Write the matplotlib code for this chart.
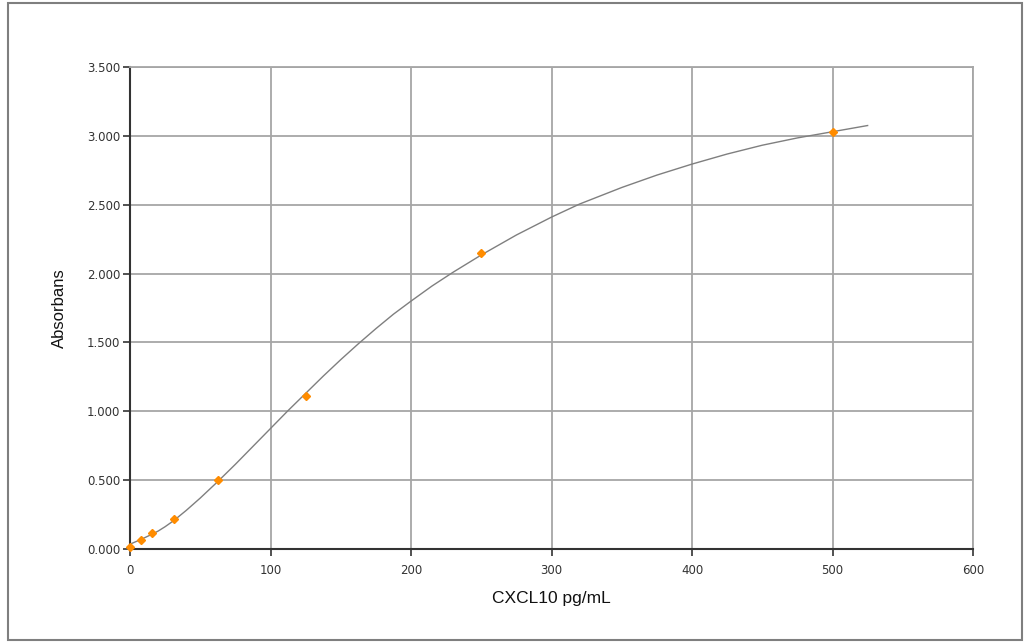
import matplotlib
matplotlib.use("Agg")
import matplotlib.pyplot as plt
from matplotlib.patches import Rectangle

# Standard points
conc = [0, 7.8, 15.6, 31.25, 62.5, 125, 250, 500]
absorb = [0.015, 0.065, 0.115, 0.22, 0.50, 1.11, 2.15, 3.03]

# Fitted curve
curve_x = [0, 5, 10, 15, 20, 25, 31.25, 40, 50, 62.5, 75, 87.5, 100, 112.5, 125,
           137.5, 150, 162.5, 175, 187.5, 200, 215, 230, 250, 275, 300, 320, 350,
           375, 400, 425, 450, 475, 500, 525]
curve_y = [0.035, 0.057, 0.08, 0.104, 0.13, 0.162, 0.207, 0.28, 0.37, 0.49, 0.615,
           0.745, 0.875, 1.005, 1.13, 1.255, 1.375, 1.49, 1.60, 1.705, 1.80, 1.91,
           2.01, 2.135, 2.28, 2.41, 2.505, 2.625, 2.715, 2.795, 2.868, 2.932, 2.985,
           3.03, 3.075]

xticks = [0, 100, 200, 300, 400, 500, 600]
yticks = [0.0, 0.5, 1.0, 1.5, 2.0, 2.5, 3.0, 3.5]
ytick_labels = ["0.000", "0.500", "1.000", "1.500", "2.000", "2.500", "3.000", "3.500"]
xlabel = "CXCL10 pg/mL"
ylabel = "Absorbans"

fig = plt.figure(figsize=(10.25, 6.42), dpi=100)
fig.patches.append(Rectangle((8 / 1025, 2 / 642), 1014 / 1025, 637 / 642,
                             transform=fig.transFigure, fill=False,
                             edgecolor="#7f7f7f", linewidth=1.5))
ax = fig.add_axes([130 / 1025, 93 / 642, 843 / 1025, 482 / 642])

grid_c = "#a6a6a6"
ax.set_xlim(0, 600)
ax.set_ylim(0, 3.5)
ax.set_xticks(xticks)
ax.set_yticks(yticks)
ax.set_yticklabels(ytick_labels)
ax.grid(True, color=grid_c, linewidth=1.3)
ax.set_axisbelow(True)

ax.plot(curve_x, curve_y, color="#7f7f7f", linewidth=1.0, zorder=3)
ax.plot(conc, absorb, linestyle="none", marker="D", markersize=4.5,
        color="#ff8c00", markeredgecolor="#ff8c00", zorder=4, clip_on=False)

for s in ["top", "right"]:
    ax.spines[s].set_color(grid_c)
    ax.spines[s].set_linewidth(1.3)
for s in ["left", "bottom"]:
    ax.spines[s].set_color("#333333")
    ax.spines[s].set_linewidth(1.5)

ax.tick_params(axis="both", direction="out", length=5, width=1.2, color="#333333",
               labelsize=8.5, labelcolor="#333333")
ax.tick_params(axis="x", pad=6)
ax.tick_params(axis="y", pad=2)
for lab in ax.get_xticklabels() + ax.get_yticklabels():
    lab.set_family("DejaVu Sans")

ax.set_xlabel(xlabel, fontsize=12.5, family="Liberation Sans", color="#111111", labelpad=10)
ax.set_ylabel(ylabel, fontsize=12, family="Liberation Sans", color="#111111", labelpad=14)

fig.savefig("out.png", dpi=100)
